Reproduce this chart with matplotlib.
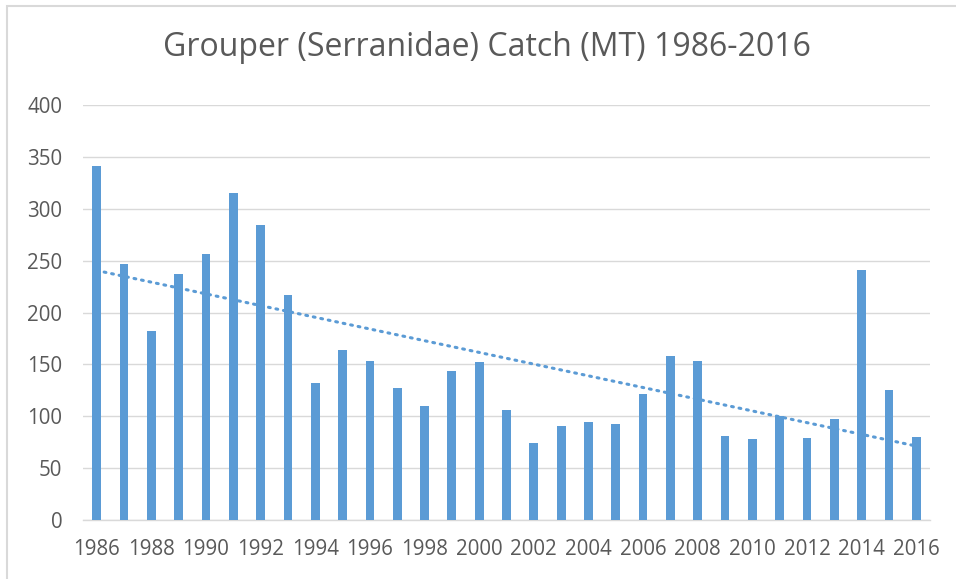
import matplotlib
matplotlib.use("Agg")
import matplotlib.pyplot as plt
import numpy as np
from matplotlib.patches import Rectangle

years = list(range(1986, 2017))
catch_mt = [341, 247, 182, 237, 257, 315, 285, 217, 132, 164, 153, 127, 110, 144, 152,
            106, 74, 91, 95, 93, 122, 158, 153, 81, 78, 100, 79, 97, 241, 125, 80]
yticks = [0, 50, 100, 150, 200, 250, 300, 350, 400]
xtick_labels = [str(y) for y in years[::2]]
title = "Grouper (Serranidae) Catch (MT) 1986-2016"

bar_color = "#5B9BD5"
text_color = "#595959"
grid_color = "#D9D9D9"

plt.rcParams['font.family'] = ['Open Sans', 'DejaVu Sans']

W, H = 956, 579
fig = plt.figure(figsize=(W / 100, H / 100), dpi=100)
fig.patch.set_facecolor("white")

# outer chart border
fig.patches.append(Rectangle((7 / W, -0.1), 1.2, (H - 6.5) / H + 0.1,
                             transform=fig.transFigure, fill=False,
                             edgecolor="#D9D9D9", linewidth=1.5))

left, right, top, bottom = 83, 930, 105.3, 520
ax = fig.add_axes([left / W, 1 - bottom / H, (right - left) / W, (bottom - top) / H])

x = np.arange(len(years))
ax.bar(x, catch_mt, width=0.32, color=bar_color, zorder=3)

# linear trendline
coef = np.polyfit(x, catch_mt, 1)
trend = np.polyval(coef, x)
ax.plot(x, trend, color=bar_color, linewidth=2.2, linestyle=(0, (0.6, 1.9)),
        dash_capstyle='round', zorder=4)

ax.set_xlim(-0.5, len(years) - 0.5)
ax.set_ylim(0, 400)
ax.set_yticks(yticks)
ax.set_yticklabels([str(v) for v in yticks])
ax.set_xticks(x[::2])
ax.set_xticklabels(xtick_labels)

ax.grid(axis='y', color=grid_color, linewidth=1.0, zorder=0)
ax.set_axisbelow(True)
for s in ['top', 'right', 'left']:
    ax.spines[s].set_visible(False)
ax.spines['bottom'].set_color(grid_color)
ax.spines['bottom'].set_linewidth(1.0)

ax.tick_params(axis='both', length=0, labelsize=14.8, labelcolor=text_color)
ax.tick_params(axis='y', pad=15)
ax.tick_params(axis='x', pad=14)

fig.text(487 / W, 1 - 48 / H, title, ha='center', va='center',
         fontsize=23, color=text_color)

fig.savefig("out.png", dpi=100, facecolor="white")
